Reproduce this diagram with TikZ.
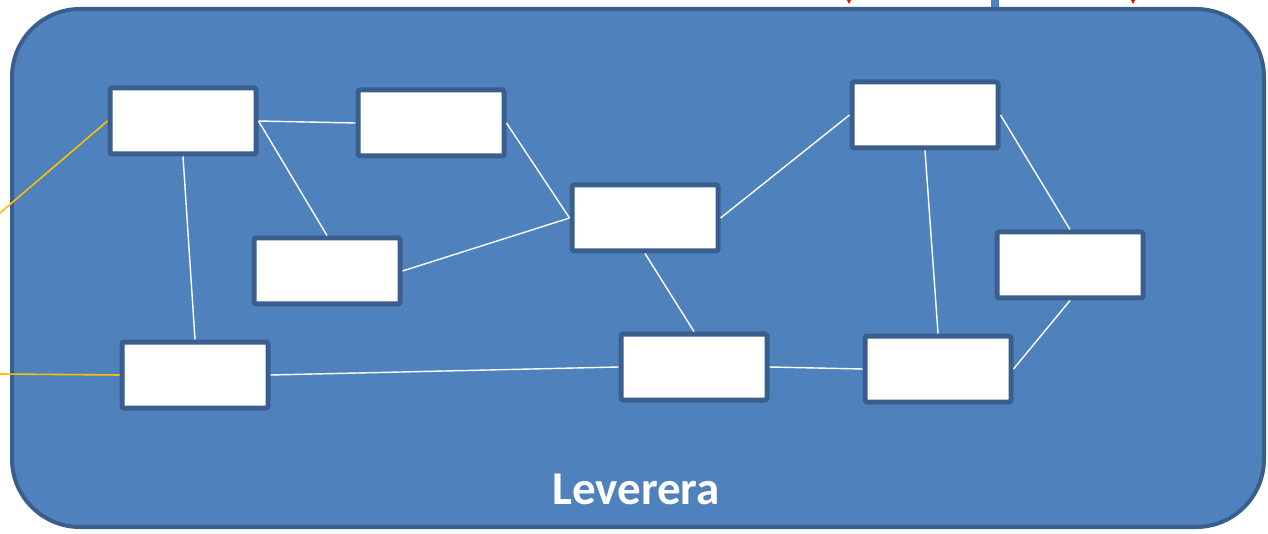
\documentclass[tikz,border=0pt]{standalone}
\usepackage{fontspec}
\setmainfont{Carlito}
\usetikzlibrary{arrows.meta}
\definecolor{fillblue}{HTML}{4F81BD}
\definecolor{edgeblue}{HTML}{3A5F8F}
\definecolor{linkyellow}{HTML}{FFC000}
\begin{document}
\begin{tikzpicture}[x=1pt,y=-1pt,line join=round,
	actor/.style={draw=edgeblue,line width=5pt,fill=white,inner sep=0pt,
		minimum width=146pt,minimum height=66pt,rounded corners=1.5pt},
	link/.style={white,line width=1.4pt},
	feed/.style={linkyellow,line width=1.6pt}]
			\useasboundingbox (0,0) rectangle (1268,534);
			% supplier area
			\node[draw=edgeblue,line width=4pt,fill=fillblue,rounded corners=68pt,
				minimum width=1252pt,minimum height=518pt,inner sep=0pt] (area) at (638,268) {};
			\node[text=white,font=\fontsize{47}{54}\selectfont\bfseries] (lev) at (636,489) {Leverera};
			% free ends outside the area
			\path
			(0,213) coordinate (inA)
			(0,374) coordinate (inG)
			(849,-30) coordinate (r1) (849,4) coordinate (r1e)
			(1133,-30) coordinate (r2) (1133,4) coordinate (r2e)
			(995,-30) coordinate (b1) (995,7) coordinate (b1e)
			;
			\draw[red,line width=1.2pt,-{Stealth[length=6pt,width=6pt]}] (r1)--(r1e);
			\draw[red,line width=1.2pt,-{Stealth[length=6pt,width=6pt]}] (r2)--(r2e);
			\draw[fillblue,line width=8pt] (b1)--(b1e);
			% boxes
			\foreach \n/\x/\y in {A/183/121,B/431/123,C/327/271,D/645/218,E/925/115,
				F/1070/265,G/195/375,H/694/367,I/938/369}
			\node[actor] (\n) at (\x,\y) {};
			% links
			\foreach \a/\b in {A.east/B.west,A.east/C.north,A.south/G.north,B.east/D.west,
				C.east/D.west,D.east/E.west,D.south/H.north,E.east/F.north,E.south/I.north,
				F.south/I.east,G.east/H.west,H.east/I.west}
			\draw[link] (\a)--(\b);
			\draw[feed] (inA)--(A.west);
			\draw[feed] (inG)--(G.west);
\end{tikzpicture}
\end{document}
